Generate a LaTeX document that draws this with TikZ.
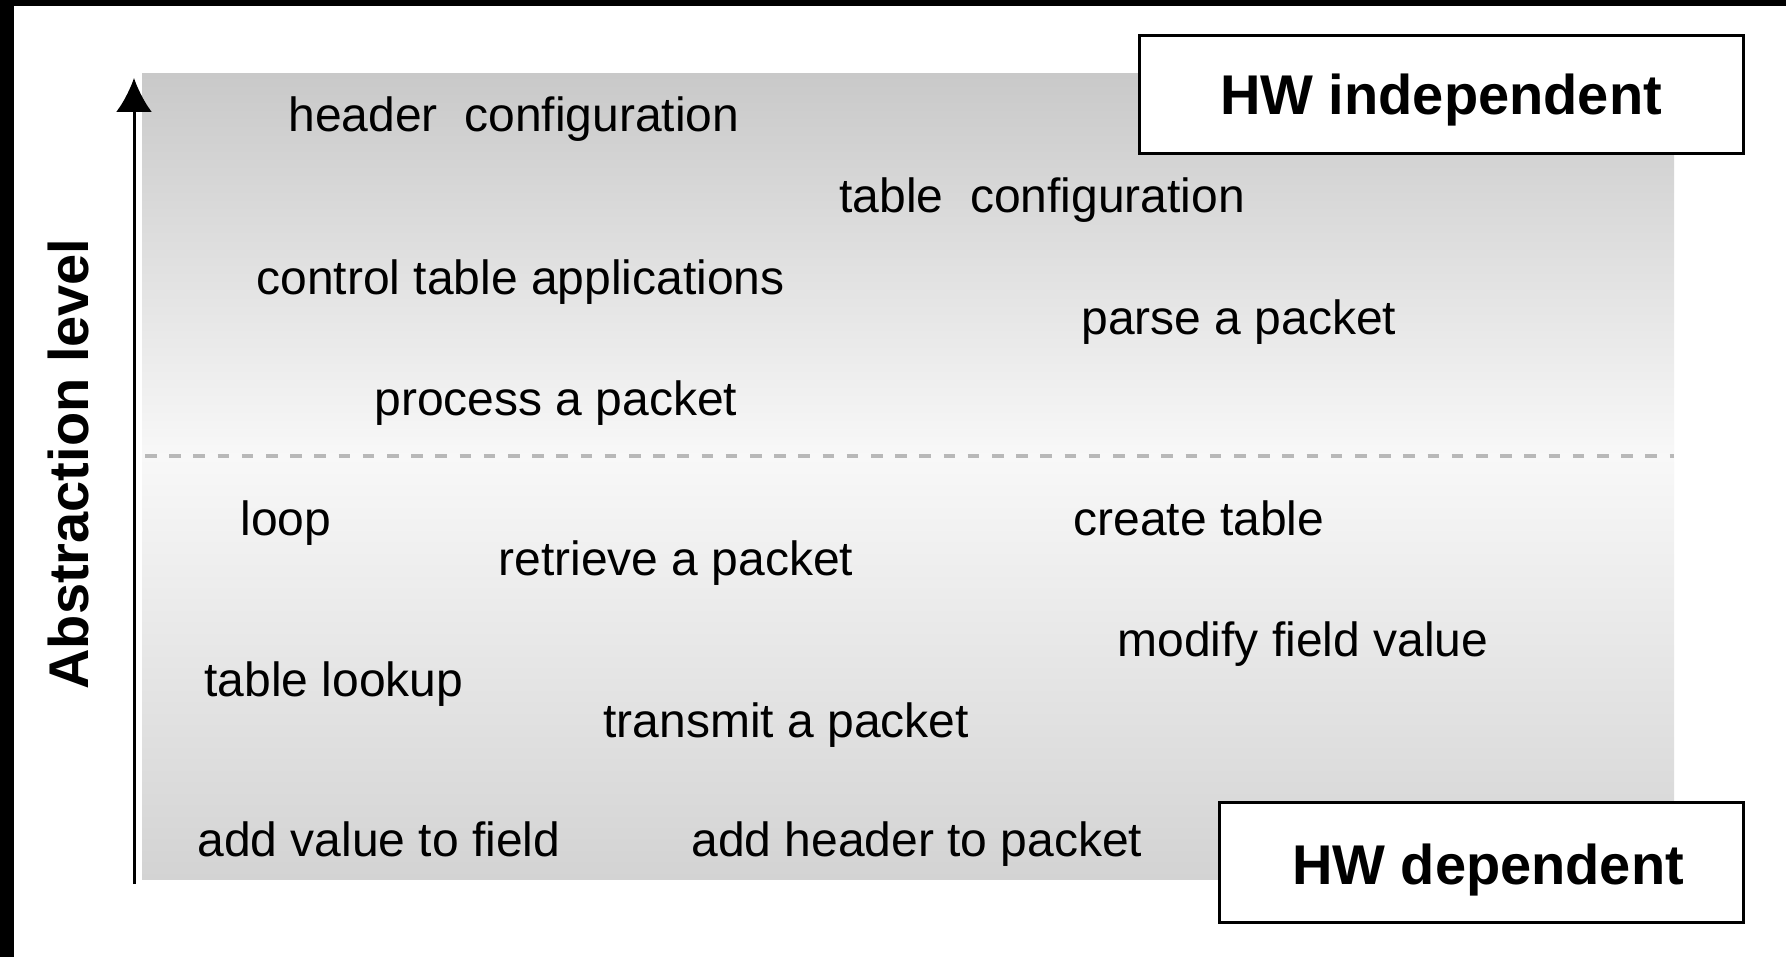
\documentclass[tikz,border=0pt]{standalone}
\usepackage{fontspec}
\setmainfont{Liberation Sans}
\usetikzlibrary{arrows.meta}

\definecolor{shadetop}{HTML}{C9C9C9}
\definecolor{shademid}{HTML}{F8F8F8}
\definecolor{shadebot}{HTML}{D3D3D3}
\definecolor{dashgray}{HTML}{B8B8B8}

\begin{document}
\begin{tikzpicture}[x=0.5pt,y=-0.5pt,
  item/.style={anchor=base west, inner sep=0pt, font=\fontsize{24}{28}\selectfont},
  hwbox/.style={draw=black, line width=1.5pt, fill=white, inner sep=0pt},
  hwlabel/.style={inner sep=0pt, font=\fontsize{28}{32}\selectfont\bfseries},
  axislabel/.style={rotate=90, anchor=base, inner sep=0pt,
    font=\fontsize{28}{32}\selectfont\bfseries},
  axisarrow/.style={line width=1.5pt, -{Latex[length=17pt,width=18pt]}},
  divider/.style={draw=dashgray, line width=1.6pt, dash pattern=on 5.8pt off 6.3pt}]

\useasboundingbox (0,0) rectangle (1786,957);
% frame: black strip on the left and top
\fill[black] (0,0) rectangle (1786,957);
\fill[white] (14,6) rectangle (1786,957);

% shaded field, split at the divider
\fill[top color=shadetop, bottom color=shademid] (142,74) rectangle (1674,457);
\fill[top color=shademid, bottom color=shadebot] (142,456) rectangle (1674,879);

% divider between the two halves
\coordinate (divL) at (145,456);
\coordinate (divR) at (1674,456);
\draw[divider] (divL) -- (divR);

% vertical axis
\coordinate (axisbot) at (134,884);
\coordinate (axistop) at (134,78);
\draw[axisarrow] (axisbot) -- (axistop);
\node[axislabel] (abstr) at (88,464) {Abstraction level};

% operations
\node[item] (hdrcfg)  at (288,132) {header\ \ configuration};
\node[item] (tblcfg)  at (839,213) {table\ \ configuration};
\node[item] (ctrlapp) at (256,294) {control table applications};
\node[item] (parse)   at (1081,334) {parse a packet};
\node[item] (proc)    at (374,415) {process a packet};
\node[item] (loop)    at (240,535) {loop};
\node[item] (create)  at (1073,535) {create table};
\node[item] (retr)    at (498,575) {retrieve a packet};
\node[item] (modify)  at (1117,656) {modify field value};
\node[item] (lookup)  at (204,696) {table lookup};
\node[item] (transm)  at (603,737) {transmit a packet};
\node[item] (addval)  at (197,856) {add value to field};
\node[item] (addhdr)  at (691,856) {add header to packet};

% level boxes
\node[hwbox, minimum width=302pt, minimum height=59pt] (indep) at (1441,95) {};
\node[hwlabel] (indeplbl) at (1441,100) {HW independent};
\node[hwbox, minimum width=262pt, minimum height=60pt] (dep) at (1481,862) {};
\node[hwlabel] (deplbl) at (1488,870) {HW dependent};
\end{tikzpicture}
\end{document}
